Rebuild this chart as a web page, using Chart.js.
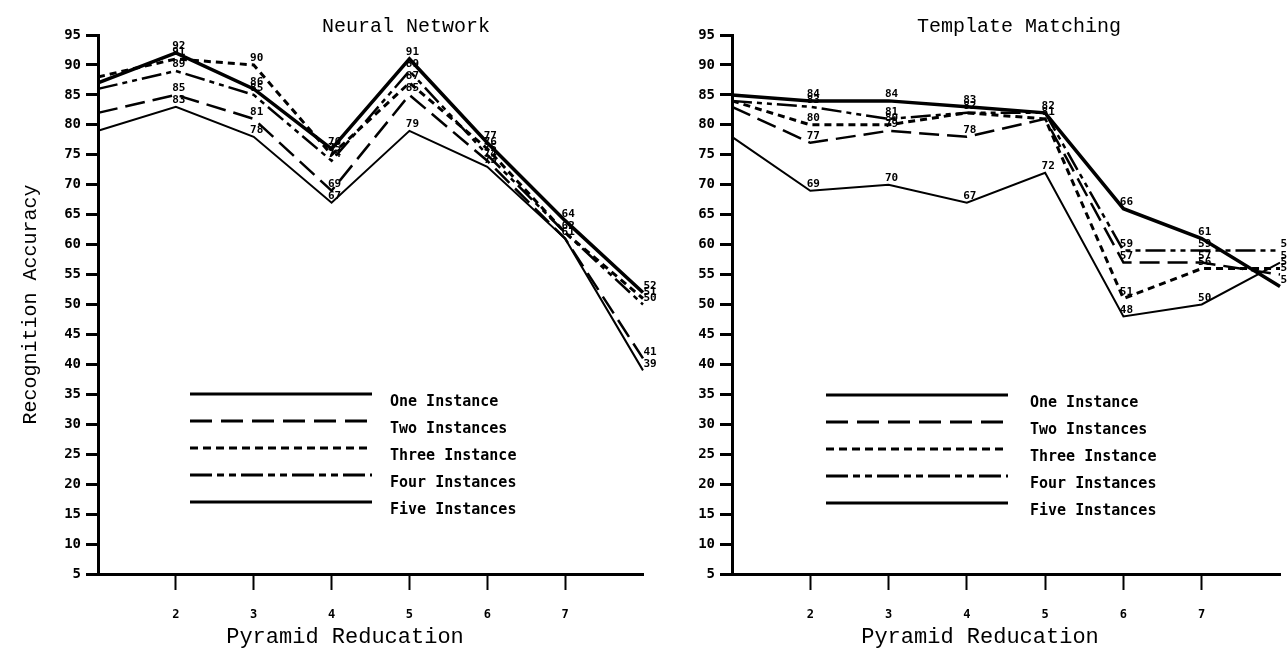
<!DOCTYPE html>
<html>
<head>
<meta charset="utf-8">
<script src="https://cdn.jsdelivr.net/npm/chart.js@4.4.1/dist/chart.umd.min.js"></script>
<style>
  html, body { margin: 0; padding: 0; background: #fff; }
  .wrap { display: flex; width: 1287px; height: 649px; overflow: hidden; }
  #leftBox { position: relative; width: 662px; height: 649px; }
  #rightBox { position: relative; width: 625px; height: 649px; }
</style>
</head>
<body>
<div class="wrap">
  <div id="leftBox"><canvas id="neuralChart"></canvas></div>
  <div id="rightBox"><canvas id="templateChart"></canvas></div>
</div>
<script>
const reductions = [1, 2, 3, 4, 5, 6, 7, 8];
const xTickValues = [2, 3, 4, 5, 6, 7];
const yTickValues = [5, 10, 15, 20, 25, 30, 35, 40, 45, 50, 55, 60, 65, 70, 75, 80, 85, 90, 95];
const seriesNames = ["One Instance", "Two Instances", "Three Instance", "Four Instances", "Five Instances"];

const neuralOne = [79, 83, 78, 67, 79, 73, 61, 39];
const neuralTwo = [82, 85, 81, 69, 85, 74, 61, 41];
const neuralThree = [88, 91, 90, 75, 87, 76, 62, 51];
const neuralFour = [86, 89, 85, 74, 89, 75, 62, 50];
const neuralFive = [87, 92, 86, 76, 91, 77, 64, 52];

const templateOne = [78, 69, 70, 67, 72, 48, 50, 57];
const templateTwo = [83, 77, 79, 78, 81, 57, 57, 55];
const templateThree = [84, 80, 80, 82, 81, 51, 56, 56];
const templateFour = [84, 83, 81, 82, 82, 59, 59, 59];
const templateFive = [85, 84, 84, 83, 82, 66, 61, 53];

const monoFont = "'DejaVu Sans Mono', 'Liberation Mono', monospace";
const courierFont = "'Liberation Mono', 'DejaVu Sans Mono', monospace";

// line look for each series, in the same order as seriesNames
const lineStyles = [
  { width: 2, dash: [], legendDash: [] },
  { width: 2.5, dash: [20, 8], legendDash: [22, 9] },
  { width: 3, dash: [7, 5], legendDash: [8, 5] },
  { width: 2.5, dash: [20, 5, 5, 5, 5, 5], legendDash: [22, 5, 7, 5, 7, 5] },
  { width: 3.5, dash: [], legendDash: [] },
];

function buildDatasets(seriesValues) {
  return seriesValues.map((values, i) => ({
    label: seriesNames[i],
    data: reductions.map((r, j) => ({ x: r, y: values[j] })),
    borderColor: "#000",
    backgroundColor: "#000",
    borderWidth: lineStyles[i].width,
    borderDash: lineStyles[i].dash,
    pointRadius: 0,
    tension: 0,
    clip: false,
  }));
}

/* Titles, in-plot legend and value labels */

const decorPlugin = {
  id: "decor",
  afterDatasetsDraw(chart) {
    const ctx = chart.ctx;
    const xScale = chart.scales.x;
    const yScale = chart.scales.y;

    ctx.save();
    ctx.fillStyle = "#000";
    ctx.font = "bold 11px " + monoFont;
    ctx.textAlign = "center";
    ctx.textBaseline = "bottom";

    reductions.forEach((r, i) => {
      if (i === 0) {
        return;
      }
      const seen = new Set();
      chart.data.datasets.forEach((ds) => {
        const v = ds.data[i].y;
        if (seen.has(v)) {
          return;
        }
        seen.add(v);
        const px = xScale.getPixelForValue(r) + (i === reductions.length - 1 ? 7 : 3);
        ctx.fillText(String(v), px, yScale.getPixelForValue(v) - 1);
      });
    });
    ctx.restore();
  },
  afterDraw(chart, args, opts) {
    const ctx = chart.ctx;
    const area = chart.chartArea;

    ctx.save();
    ctx.fillStyle = "#000";
    ctx.textBaseline = "middle";
    ctx.textAlign = "center";

    ctx.font = "20px " + courierFont;
    ctx.fillText(opts.title, opts.titleX, 27);

    ctx.font = "22px " + courierFont;
    ctx.fillText("Pyramid Reducation", opts.axisTitleX, 637);

    // legend lines with text to the right
    const lineStart = area.left + opts.legendLeft;
    const lineEnd = lineStart + 182;
    ctx.textAlign = "left";
    ctx.font = "bold 15px " + monoFont;
    chart.data.datasets.forEach((ds, i) => {
      const y = opts.legendTop + i * 27;
      ctx.strokeStyle = "#000";
      ctx.lineWidth = 3;
      ctx.setLineDash(lineStyles[i].legendDash);
      ctx.beginPath();
      ctx.moveTo(lineStart, y);
      ctx.lineTo(lineEnd, y);
      ctx.stroke();
      ctx.setLineDash([]);
      ctx.fillText(ds.label, lineEnd + opts.legendGap, y + 8);
    });
    ctx.restore();
  },
};

function buildOptions(decor, yTitle, yWidth, rightPad) {
  return {
    responsive: true,
    maintainAspectRatio: false,
    animation: false,
    layout: {
      padding: { top: 35, right: rightPad, bottom: 0, left: 0 },
    },
    plugins: {
      legend: { display: false },
      tooltip: { enabled: false },
      decor: decor,
    },
    scales: {
      x: {
        type: "linear",
        min: 1,
        max: 8,
        afterBuildTicks: (scale) => {
          scale.ticks = xTickValues.map((v) => ({ value: v }));
        },
        afterFit: (scale) => {
          scale.height = 75;
        },
        grid: {
          drawOnChartArea: false,
          color: "#000",
          tickLength: 16,
          tickWidth: 2,
        },
        border: { color: "#000", width: 3 },
        ticks: {
          color: "#000",
          padding: 18,
          maxRotation: 0,
          font: { family: monoFont, size: 12, weight: "bold" },
        },
      },
      y: {
        min: 5,
        max: 95,
        afterBuildTicks: (scale) => {
          scale.ticks = yTickValues.map((v) => ({ value: v }));
        },
        afterFit: (scale) => {
          scale.width = yWidth;
        },
        grid: {
          drawOnChartArea: false,
          color: "#000",
          tickLength: 12,
          tickWidth: 3,
        },
        border: { color: "#000", width: 3 },
        ticks: {
          color: "#000",
          padding: 5,
          font: { family: monoFont, size: 14, weight: "bold" },
        },
        title: {
          display: yTitle !== "",
          text: yTitle,
          color: "#000",
          padding: { top: 19, bottom: 0 },
          font: { family: courierFont, size: 20, weight: "normal" },
        },
      },
    },
  };
}

const neuralCanvas = document.getElementById("neuralChart");

if (neuralCanvas && typeof Chart !== "undefined") {
  new Chart(neuralCanvas, {
    type: "line",
    data: {
      datasets: buildDatasets([neuralOne, neuralTwo, neuralThree, neuralFour, neuralFive]),
    },
    options: buildOptions(
      {
        title: "Neural Network",
        titleX: 406,
        axisTitleX: 345,
        legendLeft: 92,
        legendTop: 394,
        legendGap: 18,
      },
      "Recognition Accuracy",
      98,
      19,
    ),
    plugins: [decorPlugin],
  });
}

const templateCanvas = document.getElementById("templateChart");

if (templateCanvas && typeof Chart !== "undefined") {
  new Chart(templateCanvas, {
    type: "line",
    data: {
      datasets: buildDatasets([templateOne, templateTwo, templateThree, templateFour, templateFive]),
    },
    options: buildOptions(
      {
        title: "Template Matching",
        titleX: 357,
        axisTitleX: 318,
        legendLeft: 94,
        legendTop: 395,
        legendGap: 22,
      },
      "",
      70,
      7,
    ),
    plugins: [decorPlugin],
  });
}
</script>
</body>
</html>
